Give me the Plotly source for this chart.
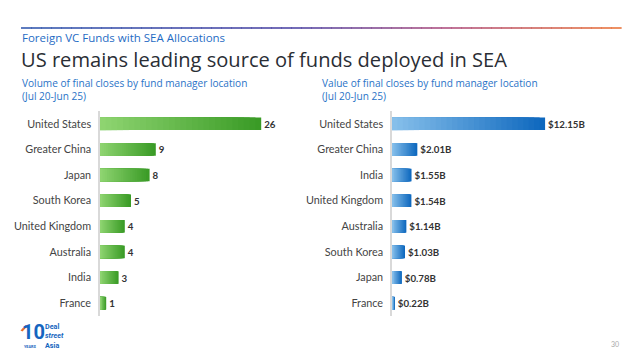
import plotly.graph_objects as go
from plotly.subplots import make_subplots

# ---- data ----
volume_locations = ["United States", "Greater China", "Japan", "South Korea",
                    "United Kingdom", "Australia", "India", "France"]
volume_counts = [26, 9, 8, 5, 4, 4, 3, 1]

value_locations = ["United States", "Greater China", "India", "United Kingdom",
                   "Australia", "South Korea", "Japan", "France"]
value_billions = [12.15, 2.01, 1.55, 1.54, 1.14, 1.03, 0.78, 0.22]

kicker = "Foreign VC Funds with SEA Allocations"
headline = "US remains leading source of funds deployed in SEA"
left_sub = "Volume of final closes by fund manager location<br>(Jul 20-Jun 25)"
right_sub = "Value of final closes by fund manager location<br>(Jul 20-Jun 25)"

W, H = 640, 360
fig = make_subplots(rows=1, cols=2, horizontal_spacing=0.0)


def mix(c1, c2, t):
    return "rgb(%d,%d,%d)" % tuple(round(a + (b - a) * t) for a, b in zip(c1, c2))


def gradient_bars(cats, vals, light, dark, col, texttemplate):
    n = 28
    for i in range(n):
        frac = 1 - i / n
        xs = [v * frac for v in vals]
        kw = {}
        if i == 0:
            kw = dict(text=vals, texttemplate=texttemplate, textposition="outside",
                      textfont=dict(family="Lato", size=9.7, color="#333333"),
                      cliponaxis=False)
        fig.add_trace(go.Bar(
            y=cats, x=xs, orientation="h",
            marker=dict(color=mix(light, dark, frac), line=dict(width=0)),
            width=0.49, hoverinfo="skip", showlegend=False, **kw), row=1, col=col)


gradient_bars(volume_locations, volume_counts, (145, 214, 115), (58, 155, 38), 1,
              "<b>%{text}</b>")
gradient_bars(value_locations, value_billions, (138, 194, 236), (14, 104, 190), 2,
              "<b>$%{text:.2f}B</b>")

ytop = 1 - 111 / H
ybot = 1 - 316 / H
tickfont = dict(family="Lato", size=10.8, color="#444444")
fig.update_layout(
    barmode="overlay",
    width=W, height=H,
    margin=dict(l=0, r=0, t=0, b=0),
    paper_bgcolor="white", plot_bgcolor="white",
    font=dict(family="Lato", color="#444444"),
    xaxis=dict(domain=[100 / W, 300 / W], range=[0, 200 / 6.2], visible=False),
    xaxis2=dict(domain=[392 / W, 610 / W], range=[0, 218 / 12.6], visible=False),
    yaxis=dict(domain=[ybot, ytop], autorange="reversed", showline=True,
               linecolor="#d9d9d9", linewidth=1.5, showgrid=False,
               ticks="", ticklabelstandoff=5, tickfont=tickfont),
    yaxis2=dict(domain=[ybot, ytop], autorange="reversed", showline=True,
                linecolor="#d9d9d9", linewidth=1.5, showgrid=False,
                ticks="", ticklabelstandoff=5, tickfont=tickfont),
)

# gradient rule at top
x0, x1, yl = 21, 621, 1 - 28 / H
stops = [(0.0, (40, 80, 170)), (0.45, (70, 60, 160)), (0.7, (170, 70, 120)), (1.0, (235, 110, 45))]


def rule_color(t):
    for (t0, c0), (t1, c1) in zip(stops[:-1], stops[1:]):
        if t <= t1:
            return mix(c0, c1, (t - t0) / (t1 - t0))
    return mix(stops[-1][1], stops[-1][1], 0)


nseg = 60
for k in range(nseg):
    a = x0 + (x1 - x0) * k / nseg
    b = x0 + (x1 - x0) * (k + 1) / nseg
    fig.add_shape(type="line", xref="paper", yref="paper", x0=a / W, x1=b / W + 0.001,
                  y0=yl, y1=yl, line=dict(color=rule_color(k / nseg), width=1.5))

annos = [
    dict(x=20 / W, y=1 - 38 / H, text=kicker, font=dict(family="Open Sans", size=11.5, color="#1f6cc4")),
    dict(x=19 / W, y=1 - 60 / H, text=headline, font=dict(family="Open Sans", size=20.1, color="#2a2e35")),
    dict(x=20 / W, y=1 - 89 / H, text=left_sub, font=dict(family="Open Sans", size=10.1, color="#2a73c7")),
    dict(x=320 / W, y=1 - 89 / H, text=right_sub, font=dict(family="Open Sans", size=10.1, color="#2a73c7")),
    # logo
    dict(x=20 / W, y=1 - 332 / H, text="<b>10</b>", font=dict(family="Roboto", size=20, color="#1565c0")),
    dict(x=43 / W, y=1 - 336 / H, text="<b>Deal<br><i>street</i><br>Asia</b>",
         font=dict(family="Roboto", size=7.2, color="#1565c0")),
    dict(x=22 / W, y=1 - 346 / H, text="<b>YEARS</b>", font=dict(family="Roboto", size=3.8, color="#1565c0")),
    dict(x=609 / W, y=1 - 344 / H, text="30", font=dict(family="Lato", size=7, color="#aaaaaa")),
]
for a in annos:
    fig.add_annotation(xref="paper", yref="paper", xanchor="left", yanchor="middle",
                       showarrow=False, align="left", **a)

# orange flag on logo
fig.add_shape(type="path", xref="paper", yref="paper",
              path="M %f %f L %f %f L %f %f L %f %f Z" % (20.5 / W, 1 - 330.5 / H, 25.5 / W, 1 - 325 / H,
                                                          28.5 / W, 1 - 325 / H, 22.5 / W, 1 - 331.5 / H),
              fillcolor="#e8702a", line=dict(width=0))

fig.write_html("out.html", post_script="document.body.style.margin='0';",
               config={"displayModeBar": False})
